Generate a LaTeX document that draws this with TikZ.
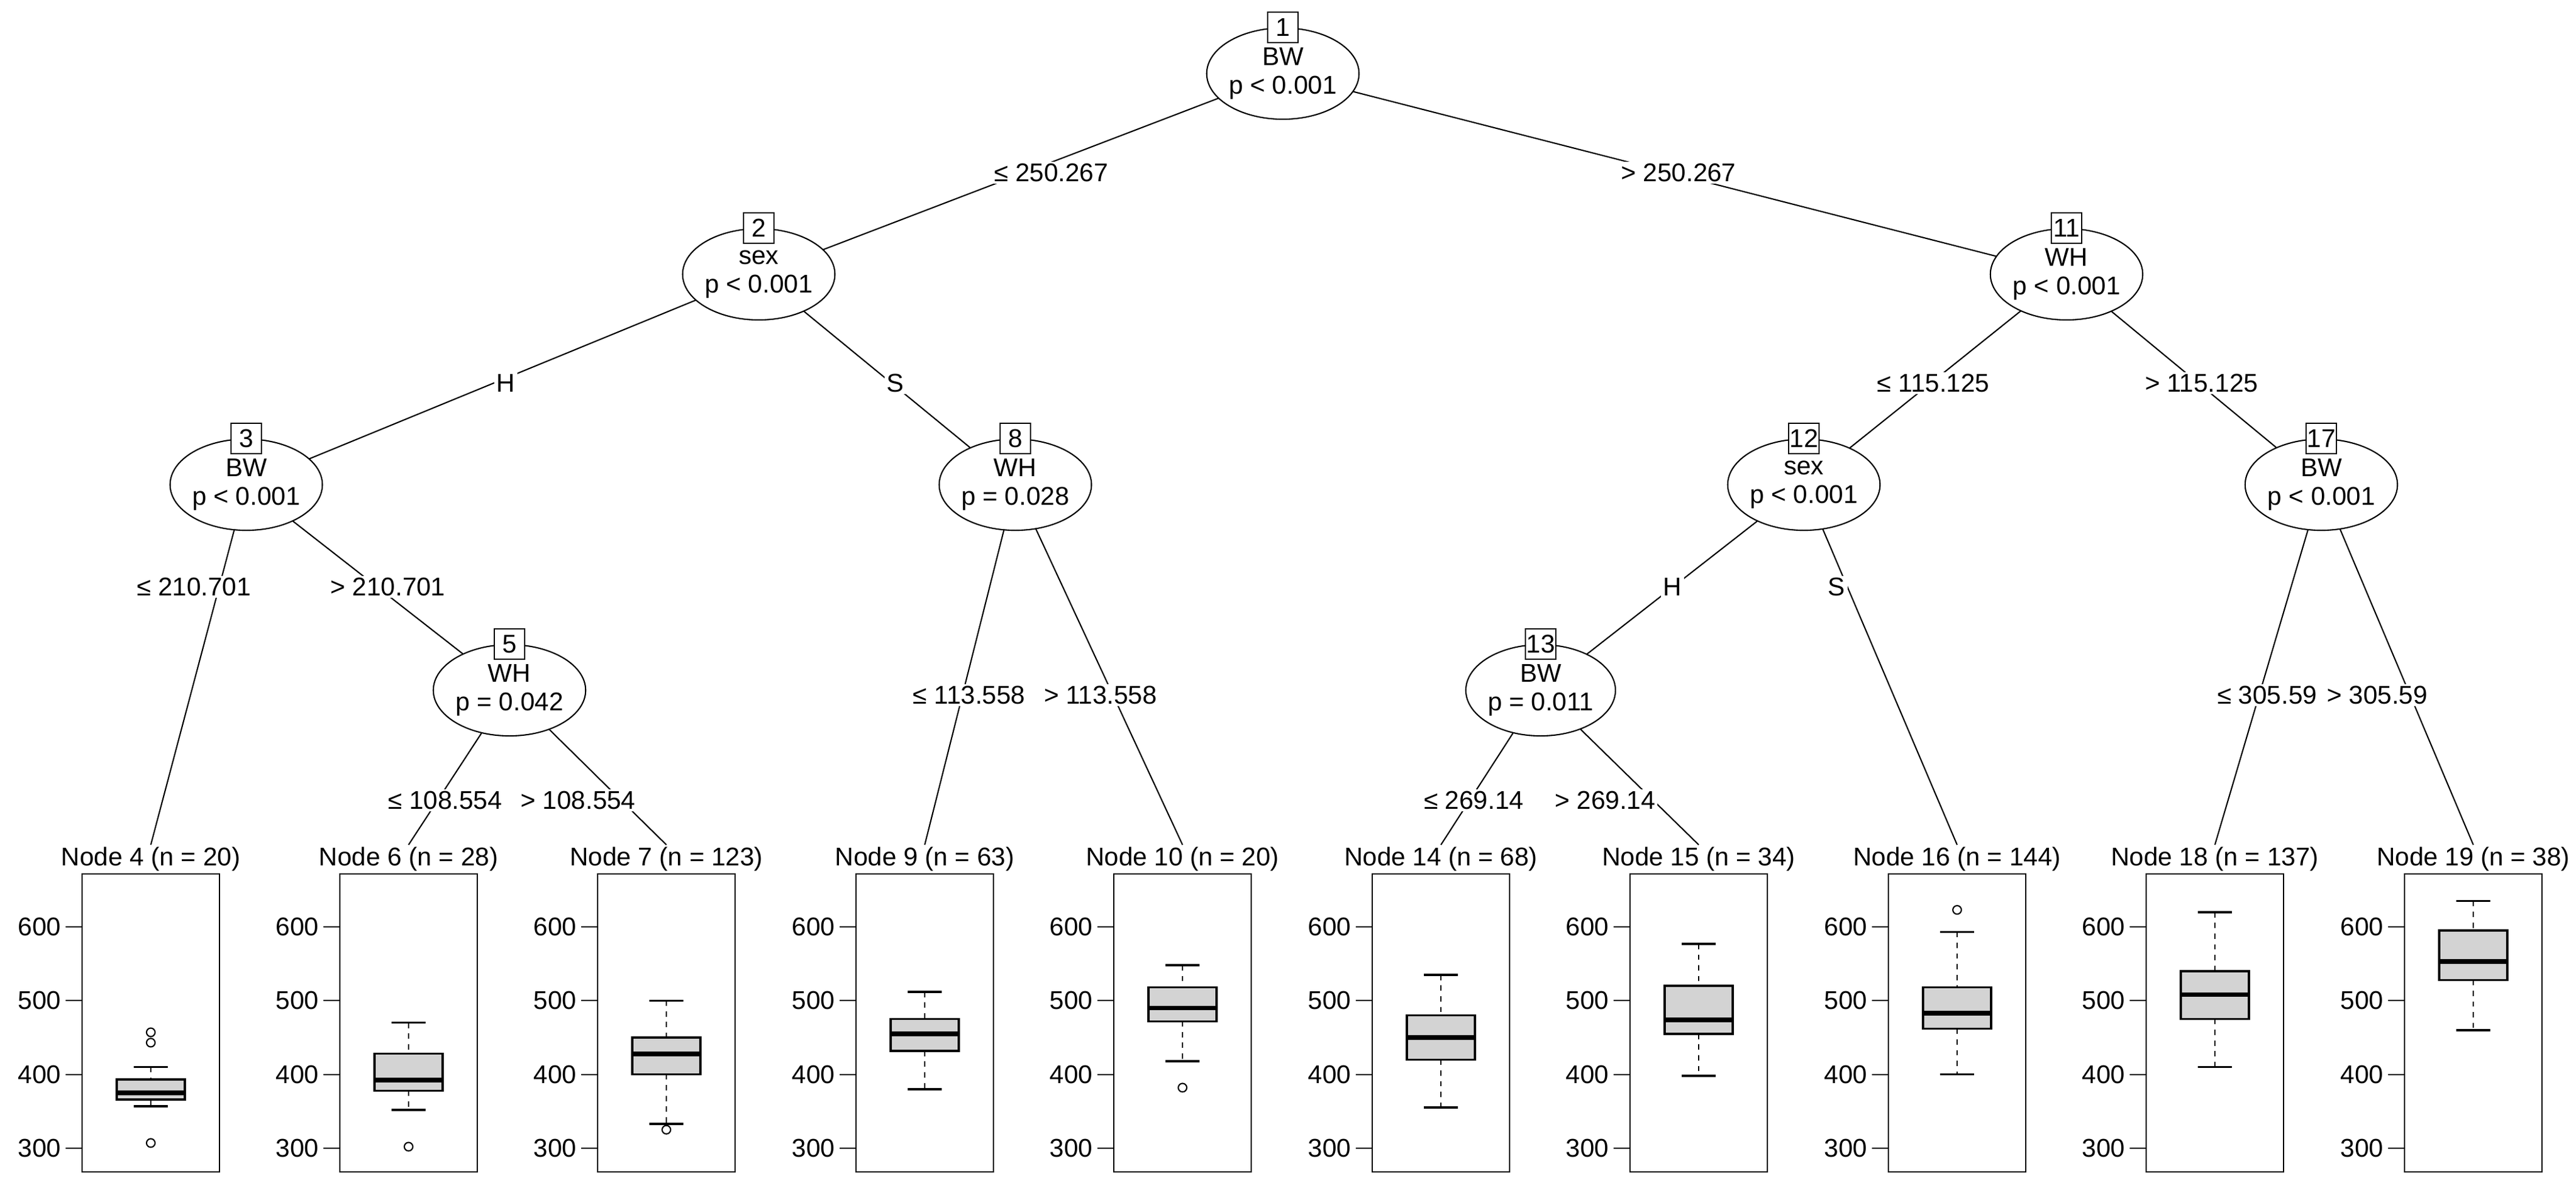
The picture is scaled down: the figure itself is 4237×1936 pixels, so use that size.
\documentclass[tikz,border=0pt]{standalone}
\usepackage{fontspec}
\setmainfont{Liberation Sans}
\usetikzlibrary{shapes.geometric,backgrounds}
\definecolor{boxgray}{HTML}{D3D3D3}
\tikzset{
  x=0.01cm, y=-0.01cm,
  every node/.style={font=\fontsize{12}{13.5}\selectfont},
  ell/.style={ellipse, draw, fill=white, minimum width=2.32cm, minimum height=1.5cm, inner sep=0pt, align=center, line width=0.6pt},
  numbox/.style={draw, fill=white, minimum size=0.5cm, inner sep=0pt, line width=0.6pt},
  elab/.style={fill=white, inner sep=1pt},
  lab/.style={fill=white, inner sep=1pt},
  edge/.style={line width=0.6pt},
  frame/.style={line width=0.6pt},
}
\newcommand\Yv[1]{{1524-(#1-600)*1.213}}
\newcommand\bxp[9]{%
  \pgfmathsetmacro\xl{#2}\pgfmathsetmacro\xc{#2+113}\pgfmathsetmacro\xr{#2+226}
  \draw[frame] (\xl,1437) rectangle (\xr,1927);
  \foreach \v in {300,400,500,600}{
    \draw[frame] (\xl-27,\Yv{\v}) -- (\xl,\Yv{\v});
    \node[anchor=east, inner sep=0pt] at (\xl-34,\Yv{\v}) {\v};}
  \draw[frame, dash pattern=on 2.5pt off 2.5pt] (\xc,\Yv{#8}) -- (\xc,\Yv{#7});
  \draw[frame, dash pattern=on 2.5pt off 2.5pt] (\xc,\Yv{#5}) -- (\xc,\Yv{#4});
  \draw[line width=1pt] (\xc-28,\Yv{#8}) -- (\xc+28,\Yv{#8});
  \draw[line width=1pt] (\xc-28,\Yv{#4}) -- (\xc+28,\Yv{#4});
  \filldraw[fill=boxgray, line width=1pt] (\xl+57,\Yv{#5}) rectangle (\xl+169,\Yv{#7});
  \draw[line width=2.2pt] (\xl+57,\Yv{#6}) -- (\xl+169,\Yv{#6});
  \foreach \o in {#9}{\draw[frame] (\xc,\Yv{\o}) circle (7);}
  \node[lab] (#1) at (\xc,1413) {#3};
}
\newcommand\inode[6]{%
  \node[ell] (#1) at (#2,#3) {#5\\p #6};
  \node[numbox] at (#1.north) {#4};
}
\begin{document}
\begin{tikzpicture}
\useasboundingbox (0,0) rectangle (4237,1936);
% inner nodes
\inode{n1}{2110}{121}{1}{BW}{< 0.001}
\inode{n2}{1248}{451}{2}{sex}{< 0.001}
\inode{n3}{405}{797}{3}{BW}{< 0.001}
\inode{n5}{838}{1135}{5}{WH}{= 0.042}
\inode{n8}{1670}{797}{8}{WH}{= 0.028}
\inode{n11}{3399}{451}{11}{WH}{< 0.001}
\inode{n12}{2967}{797}{12}{sex}{< 0.001}
\inode{n13}{2534}{1135}{13}{BW}{= 0.011}
\inode{n17}{3818}{797}{17}{BW}{< 0.001}
% terminal panels: name, xleft, label, lo, q1, med, q3, hi, outliers
\bxp{t4}{135}{Node 4 (n = 20)}{357}{366}{375}{393}{410}{457,443,307}
\bxp{t6}{559}{Node 6 (n = 28)}{352}{378}{392}{428}{470}{302}
\bxp{t7}{983}{Node 7 (n = 123)}{333}{400}{428}{450}{500}{325}
\bxp{t9}{1408}{Node 9 (n = 63)}{380}{432}{455}{475}{512}{}
\bxp{t10}{1832}{Node 10 (n = 20)}{418}{472}{490}{518}{548}{382}
\bxp{t14}{2257}{Node 14 (n = 68)}{355}{420}{450}{480}{535}{}
\bxp{t15}{2681}{Node 15 (n = 34)}{398}{455}{474}{520}{577}{}
\bxp{t16}{3106}{Node 16 (n = 144)}{400}{462}{483}{518}{593}{623}
\bxp{t18}{3530}{Node 18 (n = 137)}{410}{475}{508}{540}{620}{}
\bxp{t19}{3955}{Node 19 (n = 38)}{460}{528}{553}{595}{635}{}
% edges
\begin{pgfonlayer}{background}
\fill[white] (0,0) rectangle (4237,1936);
\draw[edge] (n1.center) -- (n2.center);
\draw[edge] (n1.center) -- (n11.center);
\draw[edge] (n2.center) -- (n3.center);
\draw[edge] (n2.center) -- (n8.center);
\draw[edge] (n3.center) -- (t4.north);
\draw[edge] (n3.center) -- (n5.center);
\draw[edge] (n5.center) -- (t6.north);
\draw[edge] (n5.center) -- (t7.north);
\draw[edge] (n8.center) -- (t9.north);
\draw[edge] (n8.center) -- (t10.north);
\draw[edge] (n11.center) -- (n12.center);
\draw[edge] (n11.center) -- (n17.center);
\draw[edge] (n12.center) -- (n13.center);
\draw[edge] (n12.center) -- (t16.north);
\draw[edge] (n13.center) -- (t14.north);
\draw[edge] (n13.center) -- (t15.north);
\draw[edge] (n17.center) -- (t18.north);
\draw[edge] (n17.center) -- (t19.north);
\end{pgfonlayer}
% edge labels
\node[elab] (e1) at (1729,284) {≤ 250.267};
\node[elab] (e2) at (2761,284) {> 250.267};
\node[elab] (e3) at (832,630) {H};
\node[elab] (e4) at (1473,630) {S};
\node[elab] (e5) at (319,965) {≤ 210.701};
\node[elab] (e6) at (638,965) {> 210.701};
\node[elab] (e7) at (732,1316) {≤ 108.554};
\node[elab] (e8) at (951,1316) {> 108.554};
\node[elab] (e9) at (1594,1143) {≤ 113.558};
\node[elab] (e10) at (1810,1143) {> 113.558};
\node[elab] (e11) at (3180,630) {≤ 115.125};
\node[elab] (e12) at (3621,630) {> 115.125};
\node[elab] (e13) at (2751,965) {H};
\node[elab] (e14) at (3021,965) {S};
\node[elab] (e15) at (2424,1316) {≤ 269.14};
\node[elab] (e16) at (2640,1316) {> 269.14};
\node[elab] (e17) at (3729,1143) {≤ 305.59};
\node[elab] (e18) at (3910,1143) {> 305.59};
\end{tikzpicture}
\end{document}
